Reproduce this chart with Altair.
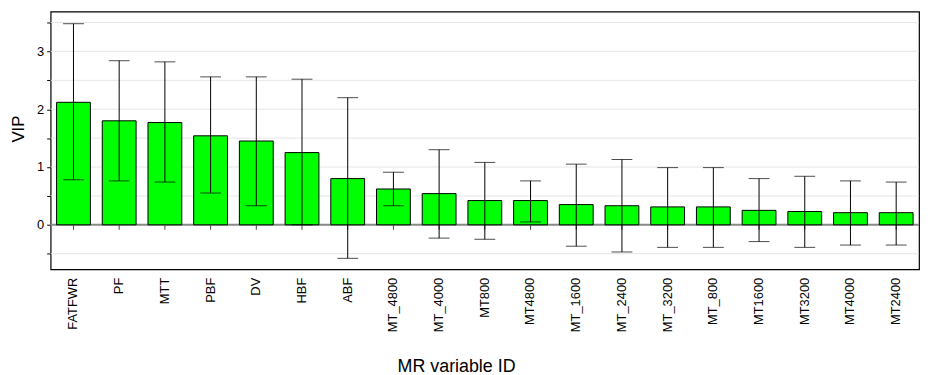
import altair as alt
import pandas as pd

categories = ["FATFWR", "PF", "MTT", "PBF", "DV", "HBF", "ABF", "MT_4800", "MT_4000",
              "MT800", "MT4800", "MT_1600", "MT_2400", "MT_3200", "MT_800", "MT1600",
              "MT3200", "MT4000", "MT2400"]
vip = [2.12, 1.80, 1.77, 1.54, 1.45, 1.25, 0.80, 0.62, 0.54, 0.42, 0.42, 0.35, 0.33,
       0.31, 0.31, 0.25, 0.23, 0.21, 0.21]
err_high = [3.48, 2.84, 2.82, 2.56, 2.56, 2.52, 2.20, 0.91, 1.30, 1.08, 0.76, 1.05, 1.13,
            0.99, 0.99, 0.80, 0.84, 0.76, 0.74]
err_low = [0.78, 0.76, 0.74, 0.55, 0.33, 0.00, -0.58, 0.33, -0.23, -0.25, 0.05, -0.37,
           -0.47, -0.39, -0.39, -0.29, -0.39, -0.35, -0.35]
y_ticks = [-0.5, 0.0, 0.5, 1.0, 1.5, 2.0, 2.5, 3.0, 3.5]

df = pd.DataFrame({"var": categories, "vip": vip, "lo": err_low, "hi": err_high})
grid_df = pd.DataFrame({"g": y_ticks})
zero_df = pd.DataFrame({"z": [0.0]})

FONT = "Liberation Sans"

x_axis = alt.Axis(labelAngle=270, domain=False, ticks=False, labelPadding=8,
                  labelFontSize=13, labelFont=FONT, labelColor="black",
                  titleFont=FONT, titleFontSize=18, titleFontWeight="normal",
                  titleColor="black", titleX=409, titleY=103, titleBaseline="alphabetic",
                  titleAlign="center", grid=False)
y_axis = alt.Axis(values=y_ticks, tickCount=30, labelOverlap=False,
                  labelExpr="datum.value % 1 === 0 ? format(datum.value, '.0f') : ''",
                  grid=False, domain=False, tickColor="black", tickSize=4,
                  labelPadding=3, labelFontSize=13, labelFont=FONT,
                  labelColor="black", titleFont=FONT, titleFontSize=17,
                  titleFontWeight="normal", titleColor="black",
                  titleX=-32, titleY=118, titleAngle=270,
                  titleBaseline="middle", titleAlign="center")

x_scale = alt.Scale(paddingInner=0.26)
y_scale = alt.Scale(domain=[-0.77, 3.69], nice=False, zero=False)

x_enc = alt.X("var:N", sort=categories, title="MR variable ID", scale=x_scale, axis=x_axis)
x_plain = alt.X("var:N", sort=categories, title="MR variable ID", scale=x_scale)

grid = alt.Chart(grid_df).mark_rule(color="#e6e6e6", strokeWidth=1).encode(
    y=alt.Y("g:Q", scale=y_scale, title="VIP", axis=y_axis))

zero_line = alt.Chart(zero_df).mark_rule(color="#8a8a8a", strokeWidth=2).encode(
    y=alt.Y("z:Q", scale=y_scale, title="VIP"))

base = alt.Chart(df)

bars = base.mark_bar(color="#00ff00", stroke="black", strokeWidth=1).encode(
    x=x_enc, y=alt.Y("vip:Q", scale=y_scale, title="VIP"), y2=alt.Y2(datum=0))

zero_ticks = base.mark_rule(color="#444444", strokeWidth=1, y2Offset=5).encode(
    x=x_plain, y=alt.Y(datum=0, scale=y_scale, title="VIP"), y2=alt.Y2(datum=0))

err = base.mark_rule(color="black", strokeWidth=1).encode(
    x=x_plain, y=alt.Y("lo:Q", scale=y_scale, title="VIP"), y2="hi:Q")
cap_hi = base.mark_tick(color="black", size=21, thickness=1).encode(
    x=x_plain, y=alt.Y("hi:Q", scale=y_scale, title="VIP"))
cap_lo = base.mark_tick(color="black", size=21, thickness=1).encode(
    x=x_plain, y=alt.Y("lo:Q", scale=y_scale, title="VIP"))

chart = alt.layer(grid, zero_line, bars, zero_ticks, err, cap_hi, cap_lo).properties(
    width=876, height=260,
    autosize=alt.AutoSizeParams(type="none"),
    padding={"left": 43, "top": 2, "right": 3, "bottom": 105},
).configure_view(stroke="black", strokeWidth=1.2)

chart.save("out.html", embed_options={"renderer": "svg", "actions": False})
